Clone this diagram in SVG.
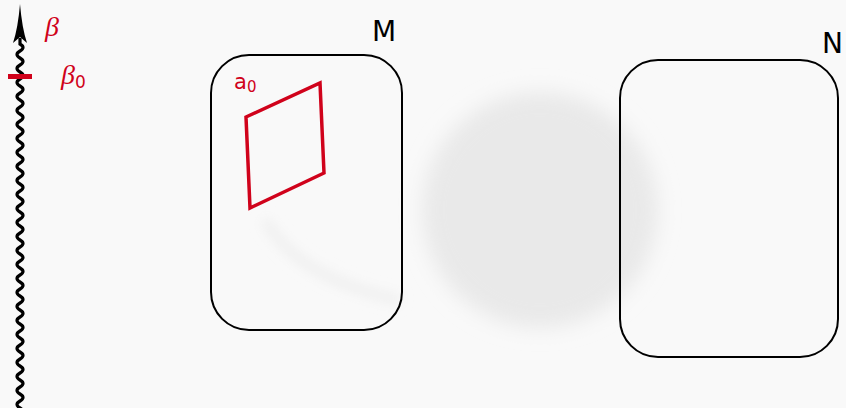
<svg xmlns="http://www.w3.org/2000/svg" width="846" height="408" viewBox="0 0 846 408">
<defs>
<filter id="blur" x="-30%" y="-30%" width="160%" height="160%"><feGaussianBlur stdDeviation="10"/></filter>
<filter id="blur2" x="-30%" y="-30%" width="160%" height="160%"><feGaussianBlur stdDeviation="6"/></filter>
<style>
.box{fill:none;stroke:#000;stroke-width:2}
.red{fill:#d0021b;font-family:"DejaVu Sans","Noto Sans",sans-serif}
.greek{fill:#d0021b;font-family:"Liberation Serif","DejaVu Serif",serif;font-style:italic}
.lbl{fill:#000;font-family:"DejaVu Sans","Noto Sans",sans-serif}
</style>
</defs>
<rect width="846" height="408" fill="#f9f9f9"/>
<circle cx="540" cy="210" r="118" fill="#e9e9e9" filter="url(#blur)"/>
<path d="M265,220 Q300,280 400,300" fill="none" stroke="#efefef" stroke-width="10" filter="url(#blur2)"/>
<g id="axis">
<path d="M20,4 Q22,28 27,43 L20,37 L13,43 Q18,28 20,4 Z" fill="#000"/>
<path d="M20,38 L20,44 q6,3.5 0,7 t0,7 t0,7 t0,7 t0,7 t0,7 t0,7 t0,7 t0,7 t0,7 t0,7 t0,7 t0,7 t0,7 t0,7 t0,7 t0,7 t0,7 t0,7 t0,7 t0,7 t0,7 t0,7 t0,7 t0,7 t0,7 t0,7 t0,7 t0,7 t0,7 t0,7 t0,7 t0,7 t0,7 t0,7 t0,7 t0,7 t0,7 t0,7 t0,7 t0,7 t0,7 t0,7 t0,7 t0,7 t0,7 t0,7 t0,7 t0,7 t0,7 t0,7 t0,7 t0,7" stroke="#000" stroke-width="3.2" fill="none"/>
<rect x="8" y="74" width="24" height="5" fill="#d0021b"/>
<text x="45" y="36" class="greek" font-size="28">β</text>
<text x="61" y="84" class="greek" font-size="28">β<tspan font-family="DejaVu Sans,sans-serif" font-style="normal" font-size="17" dy="4">0</tspan></text>
</g>
<g id="M">
<rect x="211" y="55" width="191" height="275" rx="38" class="box"/>
<text x="372" y="41" class="lbl" font-size="28">M</text>
</g>
<g id="a0">
<polygon points="246,117 320,83 324,173 250,208" fill="none" stroke="#d0021b" stroke-width="3.5" stroke-linejoin="miter"/>
<text x="234" y="89" class="red" font-size="21">a<tspan font-size="15" dy="3">0</tspan></text>
</g>
<g id="N">
<rect x="620" y="60" width="218" height="297" rx="38" class="box"/>
<text x="822" y="53" class="lbl" font-size="28">N</text>
</g>
<g id="connectors"></g>
</svg>
